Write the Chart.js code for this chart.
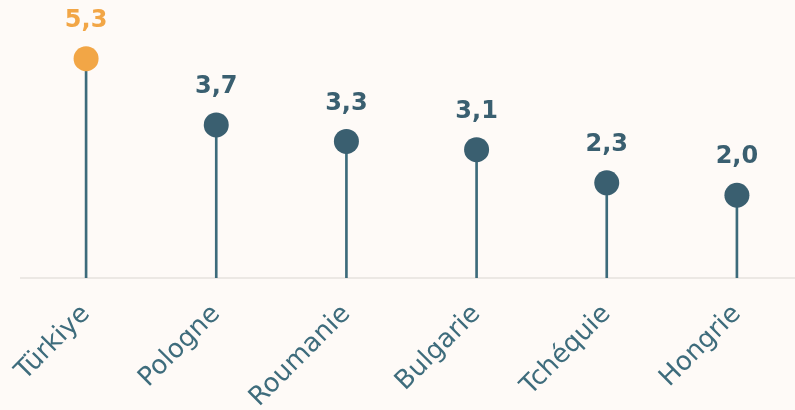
<!DOCTYPE html>
<html>
<head>
<meta charset="utf-8">
<script src="https://cdn.jsdelivr.net/npm/chart.js@4"></script>
<style>
  html, body { margin: 0; padding: 0; background: #fefaf7; overflow: hidden; }
  #wrap { width: 802px; height: 410px; }
</style>
</head>
<body>
<div id="wrap"><canvas id="myChart" width="802" height="410"></canvas></div>
<script>
var countries = ['Türkiye', 'Pologne', 'Roumanie', 'Bulgarie', 'Tchéquie', 'Hongrie'];
var values = [5.3, 3.7, 3.3, 3.1, 2.3, 2.0];
var highlight = 'Türkiye';

var dark = '#3a5f70';
var stem = '#3d6b7b';
var orange = '#f2a646';
var dotColors = countries.map(function (c) { return c === highlight ? orange : dark; });

var valueLabels = {
    id: 'valueLabels',
    afterDatasetsDraw: function (chart) {
        var c = chart.ctx;
        var meta = chart.getDatasetMeta(1);
        c.save();
        c.font = 'bold 24px "DejaVu Sans"';
        c.textAlign = 'center';
        c.textBaseline = 'middle';
        meta.data.forEach(function (pt, i) {
            c.fillStyle = dotColors[i];
            c.fillText(values[i].toFixed(1).replace('.', ','), pt.x, pt.y - 38);
        });
        c.restore();
    }
};

var ctx = document.getElementById('myChart').getContext('2d');
var myChart = new Chart(ctx, {
    type: 'bar',
    data: {
        labels: countries,
        datasets: [{
            data: values,
            backgroundColor: stem,
            barThickness: 2,
            order: 2
        }, {
            type: 'line',
            data: values,
            showLine: false,
            pointRadius: 12.5,
            pointHoverRadius: 12.5,
            pointBackgroundColor: dotColors,
            pointBorderWidth: 0,
            clip: false,
            order: 1
        }]
    },
    options: {
        responsive: false,
        animation: false,
        layout: { autoPadding: false, padding: { left: 21, right: 0, top: 9, bottom: 0 } },
        plugins: { legend: { display: false }, tooltip: { enabled: false } },
        scales: {
            x: {
                grid: { display: false },
                border: { color: '#ece8e4', width: 2 },
                ticks: {
                    color: '#3e6c7c',
                    font: { family: '"DejaVu Sans"', size: 26 },
                    minRotation: 45,
                    maxRotation: 45,
                    padding: 13
                },
                afterFit: function (s) {
                    s.height = 132;
                    s.paddingLeft = 0;
                    s.paddingRight = 0;
                }
            },
            y: {
                display: false,
                min: 0,
                max: 6.5
            }
        }
    },
    plugins: [valueLabels]
});
</script>
</body>
</html>
